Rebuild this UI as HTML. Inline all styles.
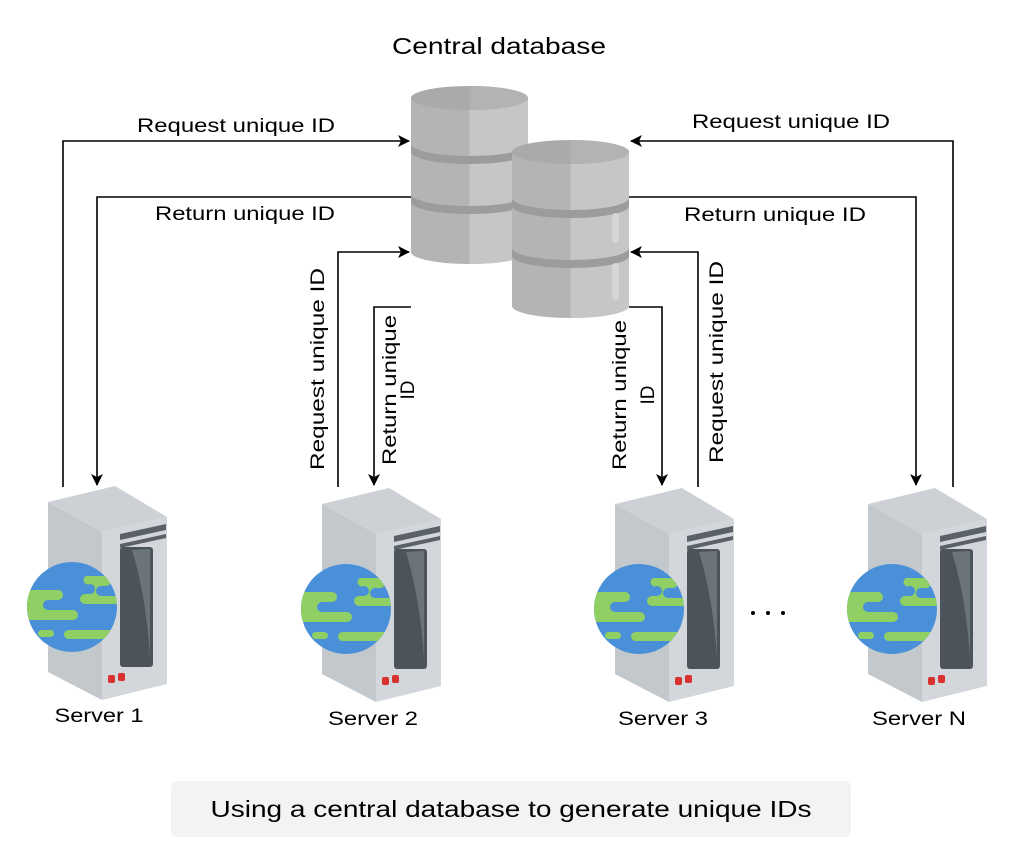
<!DOCTYPE html>
<html><head><meta charset="utf-8"><style>
body{margin:0;background:#fff;}
svg{display:block;font-family:"Liberation Sans",Arial,sans-serif;}
</style></head><body>
<svg width="1032" height="856" viewBox="0 0 1032 856" xmlns="http://www.w3.org/2000/svg">
<defs>
<marker id="ah" viewBox="0 0 12 12" refX="11" refY="6" markerWidth="12" markerHeight="12" markerUnits="userSpaceOnUse" orient="auto">
<path d="M0,0 L12,6 L0,12 L3,6 Z" fill="#000"/>
</marker>
<clipPath id="gc"><circle cx="24" cy="121" r="45"/></clipPath>
<g id="srv">
<polygon points="0,16 54,46 54,214 0,186" fill="#c3c8cd"/>
<polygon points="54,46 119,31 119,198 54,214" fill="#d3d7db"/>
<polygon points="0,16 67,0 119,31 54,46" fill="#cdd1d5"/>
<polygon points="72,48 118,38 118,44 72,54" fill="#5b6169"/>
<polygon points="72,58 118,48 118,52 72,62" fill="#5b6169"/>
<rect x="72" y="61" width="33" height="120" rx="3" fill="#4c535b"/>
<path d="M84,64 L102,63 L102,170 Q98,110 84,64 Z" fill="#6b737b"/>
<rect x="60" y="189" width="7" height="8" rx="2" fill="#d9312f"/>
<rect x="70" y="187" width="7" height="8" rx="2" fill="#d9312f"/>
<circle cx="24" cy="121" r="45" fill="#4a90d9"/>
<g clip-path="url(#gc)">
<path d="M-25,104 h35 a5,5 0 0 1 0,10 h-10 a5,5 0 0 0 0,10 h25 a5,5 0 0 1 0,10 h-55 Z" fill="#8fcf63"/>
<path d="M38,90 h20 a5,5 0 0 1 0,10 h-5 a5,5 0 0 0 0,10 h20 v8 h-36 a5,5 0 0 1 0,-10 h5 a5,5 0 0 0 0,-10 a4,4 0 0 1 -4,-8 Z" fill="#8fcf63"/>
<rect x="-10" y="144" width="16" height="7" rx="3.5" fill="#8fcf63"/>
<rect x="16" y="144" width="60" height="9" rx="4.5" fill="#8fcf63"/>
</g>
</g>
<g id="db">
<path d="M0,12 L0,166 A58.5,12 0 0 0 117,166 L117,12 Z" fill="#b4b4b4"/>
<path d="M58.5,24 L58.5,178 A58.5,12 0 0 0 117,166 L117,12 Z" fill="#c6c6c6"/>
<ellipse cx="58.5" cy="12" rx="58.5" ry="12" fill="#aaaaaa"/>
<path d="M58.5,0 A58.5,12 0 0 1 117,12 A58.5,12 0 0 1 58.5,24 Z" fill="#b3b3b3"/>
<path d="M0,58 A58.5,12 0 0 0 117,58 L117,66 A58.5,12 0 0 1 0,66 Z" fill="#9c9c9c"/>
<path d="M0,108 A58.5,12 0 0 0 117,108 L117,116 A58.5,12 0 0 1 0,116 Z" fill="#9c9c9c"/>
</g>
</defs>

<text x="499" y="54" font-size="23" text-anchor="middle" textLength="214" lengthAdjust="spacingAndGlyphs">Central database</text>

<use href="#db" x="411" y="86"/>
<use href="#db" x="512" y="140"/>
<rect x="612" y="213" width="7" height="30" rx="3.5" fill="#d6d6d6"/>
<rect x="612" y="263" width="7" height="37" rx="3.5" fill="#d6d6d6"/>

<g fill="none" stroke="#000" stroke-width="1.6">
<path d="M63,487 V141 H409" marker-end="url(#ah)"/>
<path d="M411,197 H97 V485" marker-end="url(#ah)"/>
<path d="M338,487 V252 H409" marker-end="url(#ah)"/>
<path d="M411,307 H374 V485" marker-end="url(#ah)"/>
<path d="M953,487 V141 H631" marker-end="url(#ah)"/>
<path d="M629,197 H916 V485" marker-end="url(#ah)"/>
<path d="M698,487 V252 H631" marker-end="url(#ah)"/>
<path d="M629,307 H662 V485" marker-end="url(#ah)"/>
</g>

<g font-size="19" text-anchor="middle" lengthAdjust="spacingAndGlyphs">
<text x="236" y="132" textLength="198" lengthAdjust="spacingAndGlyphs">Request unique ID</text>
<text x="245" y="220" textLength="180" lengthAdjust="spacingAndGlyphs">Return unique ID</text>
<text x="791" y="128" textLength="198" lengthAdjust="spacingAndGlyphs">Request unique ID</text>
<text x="775" y="221" textLength="182" lengthAdjust="spacingAndGlyphs">Return unique ID</text>
<text transform="translate(324,369) rotate(-90)" textLength="202" lengthAdjust="spacingAndGlyphs">Request unique ID</text>
<text transform="translate(396,390) rotate(-90)" textLength="150" lengthAdjust="spacingAndGlyphs">Return unique</text>
<text transform="translate(414,390) rotate(-90)">ID</text>
<text transform="translate(626,395) rotate(-90)" textLength="150" lengthAdjust="spacingAndGlyphs">Return unique</text>
<text transform="translate(654,395) rotate(-90)">ID</text>
<text transform="translate(723,362) rotate(-90)" textLength="202" lengthAdjust="spacingAndGlyphs">Request unique ID</text>
</g>

<use href="#srv" x="48" y="486"/>
<use href="#srv" x="322" y="488"/>
<use href="#srv" x="615" y="488"/>
<use href="#srv" x="868" y="488"/>

<g font-size="19" text-anchor="middle">
<text x="99" y="722" textLength="89" lengthAdjust="spacingAndGlyphs">Server 1</text>
<text x="373" y="725" textLength="90" lengthAdjust="spacingAndGlyphs">Server 2</text>
<text x="663" y="725" textLength="90" lengthAdjust="spacingAndGlyphs">Server 3</text>
<text x="919" y="725" textLength="94" lengthAdjust="spacingAndGlyphs">Server N</text>
</g>
<g fill="#000"><circle cx="753" cy="613" r="2"/><circle cx="768" cy="613" r="2"/><circle cx="783" cy="613" r="2"/></g>

<rect x="171" y="781" width="680" height="56" rx="6" fill="#f3f3f3"/>
<text x="511" y="817" font-size="23" text-anchor="middle" textLength="601" lengthAdjust="spacingAndGlyphs">Using a central database to generate unique IDs</text>
</svg>
</body></html>
